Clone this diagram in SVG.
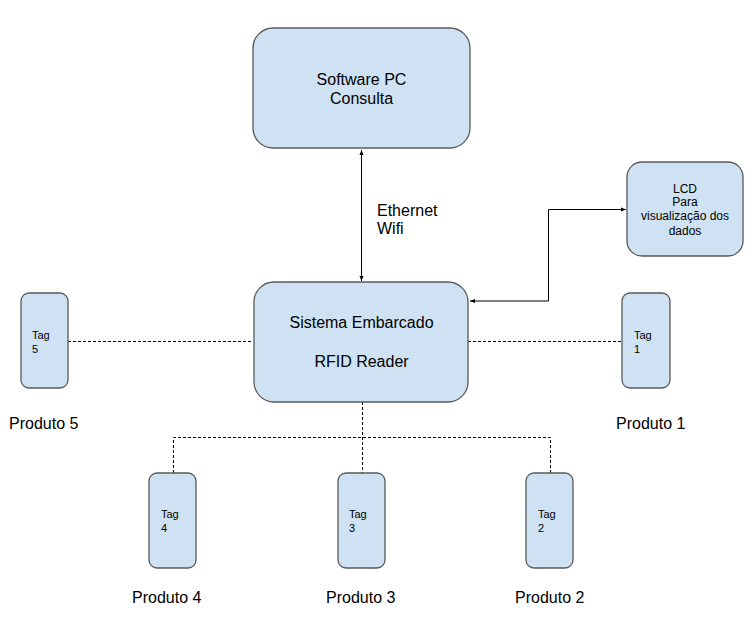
<svg xmlns="http://www.w3.org/2000/svg" width="756" height="639" viewBox="0 0 756 639">
<defs>
<marker id="ah" viewBox="0 0 10 10" refX="10" refY="5" markerWidth="5" markerHeight="5" orient="auto-start-reverse" markerUnits="userSpaceOnUse">
<path d="M0,1 L10,5 L0,9 z" fill="#000"/>
</marker>
</defs>
<style>
.box{fill:#cfe2f3;stroke:#595959;stroke-width:1.3}
.t{font-family:"Liberation Sans",Arial,sans-serif;fill:#000}
.big{font-size:16px}
.sm{font-size:11px}
.lcd{font-size:12px}
.solid{fill:none;stroke:#000;stroke-width:1}
.dash{fill:none;stroke:#000;stroke-width:1;stroke-dasharray:3,2}
</style>
<rect width="756" height="639" fill="#fff"/>
<g id="connectors">
<line class="solid" x1="361.5" y1="150" x2="361.5" y2="281" marker-start="url(#ah)" marker-end="url(#ah)"/>
<polyline class="solid" points="470,301 548.5,301 548.5,209.5 626,209.5" marker-start="url(#ah)" marker-end="url(#ah)"/>
<line class="dash" x1="68" y1="341.5" x2="253" y2="341.5"/>
<line class="dash" x1="468" y1="341.5" x2="622" y2="341.5"/>
<polyline class="dash" points="362.5,402 362.5,473"/>
<polyline class="dash" points="173.5,473 173.5,437.5 550.5,437.5 550.5,473"/>
</g>
<g id="software-pc">
<rect class="box" x="253" y="28" width="217" height="120" rx="20"/>
<text class="t big" x="361.5" y="85" text-anchor="middle">Software PC</text>
<text class="t big" x="361.5" y="104" text-anchor="middle">Consulta</text>
</g>
<g id="label-ethernet">
<text class="t big" x="377" y="216">Ethernet</text>
<text class="t big" x="377" y="234">Wifi</text>
</g>
<g id="lcd">
<rect class="box" x="627" y="162" width="116" height="94" rx="15"/>
<text class="t lcd" x="685" y="192.5" text-anchor="middle">LCD</text>
<text class="t lcd" x="685" y="206" text-anchor="middle">Para</text>
<text class="t lcd" x="685" y="220" text-anchor="middle">visualização dos</text>
<text class="t lcd" x="685" y="234.5" text-anchor="middle">dados</text>
</g>
<g id="sistema">
<rect class="box" x="254" y="282" width="214" height="120" rx="20"/>
<text class="t big" x="361.5" y="328" text-anchor="middle">Sistema Embarcado</text>
<text class="t big" x="361.5" y="367" text-anchor="middle">RFID Reader</text>
</g>
<g id="tag5">
<rect class="box" x="21" y="293" width="47" height="95" rx="8"/>
<text class="t sm" x="32" y="339">Tag</text>
<text class="t sm" x="32" y="353">5</text>
</g>
<g id="tag1">
<rect class="box" x="622" y="293" width="48" height="95" rx="8"/>
<text class="t sm" x="634" y="339">Tag</text>
<text class="t sm" x="634" y="353">1</text>
</g>
<g id="tag4">
<rect class="box" x="149" y="473" width="47" height="95" rx="8"/>
<text class="t sm" x="161" y="518">Tag</text>
<text class="t sm" x="161" y="532">4</text>
</g>
<g id="tag3">
<rect class="box" x="338" y="473" width="47" height="95" rx="8"/>
<text class="t sm" x="349" y="518">Tag</text>
<text class="t sm" x="349" y="532">3</text>
</g>
<g id="tag2">
<rect class="box" x="526" y="473" width="47" height="95" rx="8"/>
<text class="t sm" x="538" y="518">Tag</text>
<text class="t sm" x="538" y="532">2</text>
</g>
<g id="produtos">
<text class="t big" x="9" y="429">Produto 5</text>
<text class="t big" x="616" y="429">Produto 1</text>
<text class="t big" x="132" y="603">Produto 4</text>
<text class="t big" x="326" y="603">Produto 3</text>
<text class="t big" x="515" y="603">Produto 2</text>
</g>
</svg>
